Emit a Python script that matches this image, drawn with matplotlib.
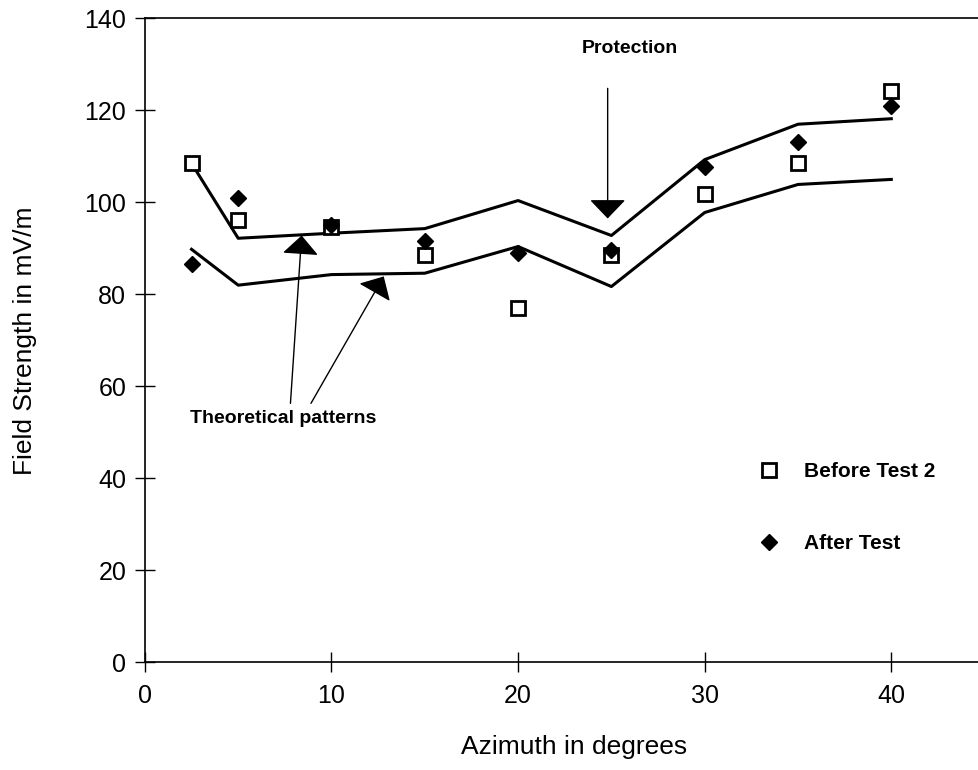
import matplotlib
matplotlib.use("Agg")
import matplotlib.pyplot as plt

plt.rcParams["font.family"] = ["Liberation Sans", "DejaVu Sans"]

# theoretical pattern envelopes
azimuth = [2.5, 5, 10, 15, 20, 25, 30, 35, 40]
upper = [108.5, 92.2, 93.3, 94.3, 100.4, 92.8, 109.3, 117.0, 118.2]
lower = [89.8, 82.0, 84.3, 84.6, 90.4, 81.7, 97.8, 103.9, 105.0]

# measured
before_test2 = [108.5, 96.1, 94.6, 88.5, 77.0, 88.5, 101.9, 108.5, 124.3]
after_test = [86.5, 101.0, 95.0, 91.7, 88.9, 89.6, 107.7, 113.1, 121.0]

fig = plt.figure(figsize=(9.79, 7.7), dpi=100)
ax = fig.add_axes([0.148, 0.140, 0.852, 0.836])

ax.plot(azimuth, upper, color="black", lw=2.2)
ax.plot(azimuth, lower, color="black", lw=2.2)
ax.plot(azimuth, before_test2, ls="none", marker="s", ms=10, mfc="white",
        mec="black", mew=2.0, label="Before Test 2", zorder=3)
ax.plot(azimuth, after_test, ls="none", marker="D", ms=8, mfc="black",
        mec="black", label="After Test", zorder=3)

arrow = dict(arrowstyle="-|>,head_length=1.2,head_width=1.15", color="black",
             lw=1.0, shrinkA=0, shrinkB=0)
ax.annotate("", xy=(24.8, 96.5), xytext=(24.8, 124.8), arrowprops=arrow)
ax.text(26.0, 133.5, "Protection", ha="center", va="center", fontsize=14,
        fontweight="bold")
ax.annotate("", xy=(8.4, 92.8), xytext=(7.8, 56.3), arrowprops=arrow)
ax.annotate("", xy=(12.8, 83.9), xytext=(8.9, 56.3), arrowprops=arrow)
ax.text(7.4, 53.0, "Theoretical patterns", ha="center", va="center",
        fontsize=14, fontweight="bold")

ax.set_xlim(0, 44.7)
ax.set_ylim(0, 140)
ax.set_xticks([0, 10, 20, 30, 40])
ax.set_yticks(range(0, 141, 20))
ax.tick_params(direction="inout", length=15, width=1, labelsize=18, pad=6)
ax.tick_params(axis="x", pad=8)
ax.spines["right"].set_visible(False)
for s in ("left", "bottom", "top"):
    ax.spines[s].set_linewidth(1.2)

ax.set_xlabel("Azimuth in degrees", fontsize=19, labelpad=22)
ax.xaxis.set_label_coords(0.514, -0.113)
ax.set_ylabel("Field Strength in mV/m", fontsize=19, labelpad=34)

ax.legend(loc="upper left", bbox_to_anchor=(0.713, 0.34), frameon=False,
          labelspacing=2.55, handlelength=1.0, handletextpad=1.2,
          prop={"weight": "bold", "size": 15})

fig.savefig("out.png", dpi=100)
